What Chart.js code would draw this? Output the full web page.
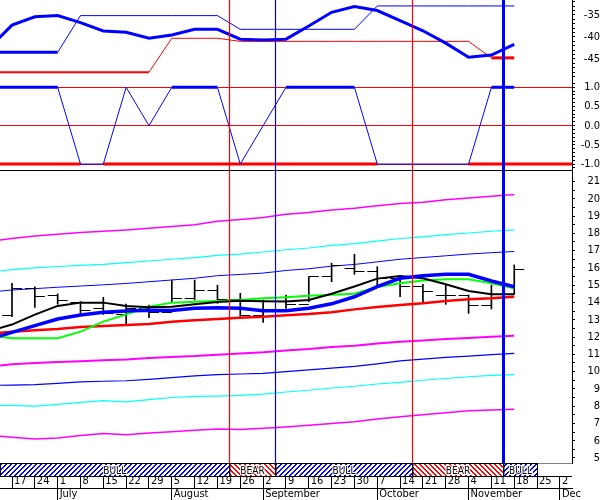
<!DOCTYPE html>
<html>
<head>
<meta charset="utf-8">
<script src="https://cdn.jsdelivr.net/npm/chart.js@4.4.1/dist/chart.umd.min.js"></script>
<style>
  html, body { margin: 0; padding: 0; background: #fff; }
</style>
</head>
<body>
<canvas id="myChart" width="600" height="500"></canvas>
<script>
// x is counted in weeks, week 0 = Mon 17 June; line data starts one week earlier (week -1)
const dayLabels = ['17','24','1','8','15','22','29','5','12','19','26','2','9','16','23','30','7','14','21','28','4','11','18','25','2'];
const monthWeeks = [2, 7, 11, 16, 20, 24];
const monthNames = ['July', 'August', 'September', 'October', 'November', 'Dec'];

// regime band and signal lines (week positions)
const regimeNames = ['BULL', 'BEAR', 'BULL', 'BEAR', 'BULL'];
const regimeEnds = [9.5, 11.5, 17.5, 21.5, 23];
const signalWeeks = [9.5, 11.5, 17.5, 21.5];
const signalTypes = ['bear', 'bull', 'bear', 'bull'];

// top panel (weeks -1..22)
const oscLine = [-42.5, -37.3, -35.4, -35.15, -36.75, -38.64, -38.94, -40.3, -39.55, -38.26, -38.26, -40.5, -40.68, -40.5, -37.5, -34.4, -33.1, -34.0, -36.3, -38.6, -41.4, -44.6, -44.1, -41.7];
const upperStop = [-43.5, -43.5, -43.5, -43.5, -35.15, -35.15, -35.15, -35.15, -35.15, -35.15, -35.15, -38.26, -38.26, -38.26, -38.26, -38.26, -38.26, -32.95, -32.95, -32.95, -32.95, -32.95, -32.95, -32.95];
const lowerStop = [-48, -48, -48, -48, -48, -48, -48, -48, -40.3, -40.3, -40.3, -41, -41, -41, -41, -41, -41, -41, -41, -41, -41, -41, -44.75, -44.75];

// middle panel (weeks -1..22)
const trendState = [1, 1, 1, 1, -1, -1, 1, 0, 1, 1, 1, -1, 0, 1, 1, 1, 1, -1, -1, -1, -1, -1, 1, 1];

// bottom panel, weekly bars (weeks 0..22)
const priceOpen  = [13.22, 14.82, 14.39, 14.0, 13.66, 13.3, 13.66, 13.43, 14.24, 14.68, 14.2, 13.23, 14.08, 13.9, 15.49, 15.98, 15.82, 15.4, 14.9, 14.39, 14.39, 13.81, 14.47];
const priceHigh  = [15.11, 14.9, 14.5, 14.05, 14.3, 13.9, 13.85, 15.3, 15.3, 15.0, 14.53, 14.14, 14.43, 15.49, 16.27, 16.79, 16.07, 15.4, 15.05, 15.05, 14.43, 15.01, 16.17];
const priceLow   = [13.18, 13.72, 13.9, 13.37, 13.3, 12.7, 13.12, 14.04, 14.14, 13.95, 13.18, 12.85, 13.66, 14.04, 15.2, 15.63, 14.91, 14.33, 14.01, 13.89, 13.37, 13.62, 14.47];
const priceClose = [14.82, 14.33, 14.14, 13.56, 13.35, 13.66, 13.43, 14.24, 14.68, 14.2, 13.23, 14.08, 13.9, 15.49, 16.13, 15.82, 15.4, 14.9, 14.66, 14.39, 13.81, 14.47, 15.88];

// bottom panel lines (weeks -1..22)
const maBlack = [12.35, 12.72, 13.3, 13.8, 13.99, 13.99, 13.8, 13.72, 13.75, 13.9, 14.02, 14.1, 14.07, 14.05, 14.14, 14.5, 14.92, 15.38, 15.53, 15.4, 15.05, 14.66, 14.48, 14.47];
const maBlue  = [11.87, 12.27, 12.66, 13.04, 13.27, 13.43, 13.51, 13.55, 13.53, 13.66, 13.7, 13.66, 13.52, 13.52, 13.66, 13.92, 14.33, 14.91, 15.4, 15.55, 15.63, 15.63, 15.24, 14.91];
const maGreen = [12.1, 11.93, 11.93, 11.93, 12.31, 12.89, 13.31, 13.75, 13.99, 14.04, 14.08, 14.14, 14.24, 14.3, 14.39, 14.45, 14.5, 14.9, 15.11, 15.27, 15.34, 15.34, 15.11, 14.82];
const maRed   = [12.2, 12.3, 12.39, 12.46, 12.58, 12.64, 12.7, 12.75, 12.89, 12.97, 13.04, 13.12, 13.18, 13.26, 13.33, 13.43, 13.6, 13.74, 13.85, 13.95, 14.08, 14.18, 14.24, 14.33];
const bandUpper3 = [17.55, 17.7, 17.85, 17.95, 18.05, 18.12, 18.2, 18.3, 18.4, 18.5, 18.7, 18.8, 18.92, 19.1, 19.2, 19.35, 19.45, 19.6, 19.72, 19.8, 19.95, 20.05, 20.15, 20.25];
const bandUpper2 = [15.75, 15.9, 16.0, 16.08, 16.15, 16.2, 16.3, 16.4, 16.5, 16.6, 16.72, 16.8, 16.92, 17.05, 17.15, 17.3, 17.4, 17.55, 17.7, 17.8, 17.92, 18.02, 18.12, 18.2];
const bandUpper1 = [14.6, 14.72, 14.8, 14.88, 14.95, 15.02, 15.1, 15.2, 15.3, 15.4, 15.55, 15.62, 15.7, 15.85, 15.95, 16.1, 16.2, 16.35, 16.5, 16.6, 16.7, 16.8, 16.88, 16.95];
const bandLower1 = [10.3, 10.42, 10.5, 10.55, 10.6, 10.65, 10.7, 10.78, 10.85, 10.9, 10.98, 11.05, 11.12, 11.22, 11.3, 11.42, 11.5, 11.62, 11.72, 11.8, 11.88, 11.95, 12.02, 12.08];
const bandLower2 = [9.2, 9.22, 9.25, 9.32, 9.4, 9.44, 9.47, 9.55, 9.65, 9.75, 9.82, 9.86, 9.9, 10.0, 10.1, 10.2, 10.3, 10.45, 10.62, 10.72, 10.82, 10.9, 10.98, 11.05];
const bandLower3 = [8.05, 8.05, 8.0, 8.1, 8.22, 8.32, 8.25, 8.38, 8.5, 8.56, 8.58, 8.62, 8.7, 8.82, 8.92, 9.05, 9.15, 9.28, 9.38, 9.5, 9.6, 9.7, 9.78, 9.82];
const bandLower4 = [6.3, 6.2, 6.1, 6.15, 6.3, 6.42, 6.35, 6.45, 6.52, 6.6, 6.68, 6.65, 6.72, 6.8, 6.9, 7.0, 7.1, 7.25, 7.38, 7.5, 7.62, 7.74, 7.78, 7.82];

// axis labels
const topLabelValues = [-35, -40, -45];
const midLabelValues = [1, 0.5, 0, -0.5, -1];
const midLabels = ['1.0', '0.5', '0.0', '-0.5', '-1.0'];

const xMin = -0.526;
const xMax = 24.53;
const FONT = '"Liberation Sans Narrow", "DejaVu Sans Condensed", Arial, sans-serif';

// turn a list of values into {x, y} points starting at a given week
function series(values, firstWeek) {
  return values.map((v, k) => ({ x: firstWeek + k, y: v }));
}

// small canvas used as point style for the open / close ticks of the bars
function tickImage(side) {
  const c = document.createElement('canvas');
  c.width = 22; c.height = 1;
  const g = c.getContext('2d');
  g.fillStyle = '#000';
  g.fillRect(side === 'left' ? 1 : 11, 0, 10, 1);
  return c;
}

// diagonal hatch, 5px period, 2px wide strokes
function hatchPattern(ctx, color, rising) {
  const c = document.createElement('canvas');
  c.width = 5; c.height = 5;
  const g = c.getContext('2d');
  g.fillStyle = color;
  for (let i = 0; i < 5; i++) {
    const y = rising ? 4 - i : i;
    g.fillRect(i, y, 1, 1);
    g.fillRect((i + 1) % 5, y, 1, 1);
  }
  return ctx.createPattern(c, 'repeat');
}

function line(values, axis, color, width, extra) {
  return Object.assign({
    type: 'line',
    data: series(values, -1),
    yAxisID: axis,
    borderColor: color,
    borderWidth: width,
    pointRadius: 0,
    tension: 0,
    fill: false
  }, extra || {});
}

// no extra layout padding from the axes
function noPadding(scale) {
  scale.paddingTop = 0;
  scale.paddingBottom = 0;
  scale.paddingLeft = 0;
  scale.paddingRight = 0;
}

// y axis in the right hand stack
function yAxis(order, weight, min, max, ticksFn, labelFn, pad, gridColor) {
  return {
    type: 'linear',
    position: 'right',
    stack: 'panels',
    stackWeight: weight,
    weight: order,
    min: min,
    max: max,
    afterBuildTicks: scale => { scale.ticks = ticksFn().map(v => ({ value: v })); },
    afterFit: scale => { scale.width = 28; noPadding(scale); },
    border: { display: true, color: '#000', width: 1 },
    grid: {
      drawOnChartArea: !!gridColor,
      color: gridColor || '#000',
      tickColor: '#000',
      tickLength: 3
    },
    ticks: {
      autoSkip: false,
      crossAlign: 'far',
      padding: pad,
      color: '#000',
      font: { family: FONT, size: 11 },
      callback: labelFn
    }
  };
}

function range(a, b, step) {
  const out = [];
  for (let v = a; v <= b + 1e-9; v += step) out.push(Math.round(v * 100) / 100);
  return out;
}

const overlay = {
  id: 'overlay',
  afterDatasetsDraw(chart) {
    const { ctx, chartArea, scales } = chart;
    signalWeeks.forEach((w, k) => {
      const last = k === signalWeeks.length - 1;
      const px = Math.round(scales.x.getPixelForValue(w)) + 0.5;
      ctx.save();
      ctx.strokeStyle = signalTypes[k] === 'bear' ? 'rgb(255,0,0)' : 'rgb(0,0,255)';
      ctx.lineWidth = last ? 3 : 1.2;
      ctx.beginPath();
      ctx.moveTo(px, chartArea.top);
      ctx.lineTo(px, chartArea.bottom);
      ctx.stroke();
      ctx.restore();
    });
  },
  afterDraw(chart) {
    const { ctx, chartArea, scales } = chart;
    const x = scales.x;
    const top = chartArea.bottom + 0.5;
    const h = 13;
    ctx.save();
    // hide the tick marks behind the band
    ctx.fillStyle = '#fff';
    ctx.fillRect(chartArea.left, top, chartArea.right - chartArea.left, h);
    const bull = hatchPattern(ctx, '#0000ff', true);
    const bear = hatchPattern(ctx, '#ff0000', false);
    let start = chartArea.left;
    regimeNames.forEach((name, k) => {
      const end = Math.round(x.getPixelForValue(regimeEnds[k])) + 0.5;
      ctx.fillStyle = name === 'BULL' ? bull : bear;
      ctx.fillRect(start, top, end - start, h);
      ctx.strokeStyle = '#000';
      ctx.lineWidth = 1;
      ctx.strokeRect(start + 0.5, top, end - start - 0.5, h);
      ctx.font = '10px ' + FONT;
      ctx.textAlign = 'center';
      ctx.textBaseline = 'middle';
      ctx.lineWidth = 2;
      ctx.strokeStyle = '#fff';
      ctx.strokeText(name, (start + end) / 2, top + h / 2 + 1);
      ctx.fillStyle = '#000';
      ctx.fillText(name, (start + end) / 2, top + h / 2 + 1);
      start = end;
    });
    ctx.strokeStyle = '#000';
    ctx.lineWidth = 1;
    ctx.beginPath();
    ctx.moveTo(chartArea.left, top + h);
    ctx.lineTo(chartArea.right, top + h);
    // frame line on top of the price panel
    const sep = Math.round(scales.yBot.top) + 0.5;
    ctx.moveTo(chartArea.left, sep);
    ctx.lineTo(chartArea.right, sep);
    ctx.stroke();
    ctx.restore();
  }
};

const openTick = tickImage('left');
const closeTick = tickImage('right');

const datasets = [
  // top panel
  line(oscLine, 'yTop', '#0000ff', 3),
  line(upperStop, 'yTop', '#0000ff', 1, { segment: { borderWidth: c => c.p0DataIndex < 3 ? 3 : 1 } }),
  line(lowerStop, 'yTop', '#ff0000', 1, { segment: { borderWidth: c => c.p0DataIndex < 7 ? 2 : (c.p0DataIndex >= 22 ? 3 : 1) } }),
  // middle panel
  line(trendState, 'yMid', '#0000ff', 1, { segment: { borderWidth: c => (c.p0.parsed.y === 1 && c.p1.parsed.y === 1) ? 3 : 1 } }),
  {
    type: 'line',
    data: series(trendState.map(() => -1), -1).concat([{ x: xMax, y: -1 }]),
    yAxisID: 'yMid',
    borderColor: '#ff0000',
    borderWidth: 3,
    pointRadius: 0,
    segment: {
      borderColor: c => (trendState[c.p0DataIndex] === -1 && trendState[c.p1DataIndex] === -1) ? 'rgba(0,0,0,0)' : '#ff0000'
    }
  },
  // bottom panel
  line(maBlue, 'yBot', '#0000ff', 3.5),
  line(maBlack, 'yBot', '#000000', 2),
  line(maGreen, 'yBot', '#00ff00', 2),
  line(maRed, 'yBot', '#ff0000', 2.5),
  {
    type: 'line', showLine: false, yAxisID: 'yBot',
    data: series(priceOpen, 0), pointStyle: openTick, pointRadius: 5
  },
  {
    type: 'line', showLine: false, yAxisID: 'yBot',
    data: series(priceClose, 0), pointStyle: closeTick, pointRadius: 5
  },
  {
    type: 'bar', yAxisID: 'yBot', grouped: false,
    data: priceHigh.map((h, k) => ({ x: k, y: [priceLow[k], h] })),
    backgroundColor: '#000', borderWidth: 0, barThickness: 1
  },
  line(bandUpper1, 'yBot', '#0000ff', 1),
  line(bandUpper2, 'yBot', '#00ffff', 1.2),
  line(bandUpper3, 'yBot', '#ff00ff', 1.5),
  line(bandLower1, 'yBot', '#ff00ff', 2),
  line(bandLower2, 'yBot', '#0000ff', 1.2),
  line(bandLower3, 'yBot', '#00ffff', 1.2),
  line(bandLower4, 'yBot', '#ff00ff', 1.5)
];

const myChart = new Chart(document.getElementById('myChart'), {
  type: 'line',
  data: { datasets: datasets },
  plugins: [overlay],
  options: {
    responsive: false,
    animation: false,
    devicePixelRatio: 1,
    events: [],
    layout: { padding: 0, autoPadding: false },
    plugins: { legend: { display: false }, tooltip: { enabled: false } },
    scales: {
      x: {
        type: 'linear', position: 'bottom', weight: 0,
        min: xMin, max: xMax, offset: false,
        afterBuildTicks: scale => { scale.ticks = dayLabels.map((_, k) => ({ value: k })); },
        afterFit: scale => { scale.height = 25; noPadding(scale); },
        border: { display: true, color: '#000' },
        grid: { drawOnChartArea: false, offset: false, color: '#000', tickLength: 25 },
        ticks: {
          autoSkip: false, maxRotation: 0, align: 'start', labelOffset: 2, padding: -13,
          color: '#000', font: { family: FONT, size: 11 },
          callback: v => dayLabels[v]
        }
      },
      x2: {
        type: 'linear', position: 'bottom', weight: 1,
        min: xMin, max: xMax, offset: false,
        afterBuildTicks: scale => { scale.ticks = monthWeeks.map(v => ({ value: v })); },
        afterFit: scale => { scale.height = 12; noPadding(scale); },
        border: { display: true, color: '#000' },
        grid: { drawOnChartArea: false, offset: false, color: '#000', tickLength: 12 },
        ticks: {
          autoSkip: false, maxRotation: 0, align: 'start', labelOffset: 2, padding: -12,
          color: '#000', font: { family: FONT, size: 11 },
          callback: v => monthNames[monthWeeks.indexOf(v)]
        }
      },
      yTop: yAxis(0, 80, -49.78, -31.6,
        () => range(-49, -32, 1),
        v => topLabelValues.includes(v) ? String(v) : '', 2),
      yMid: yAxis(1, 90, -1.155, 1.19,
        () => range(-1.1, 1.1, 0.1),
        v => { const k = midLabelValues.indexOf(v); return k >= 0 ? midLabels[k] : ''; }, 0,
        c => [1, 0, -1].includes(c.tick.value) ? '#ff0000' : 'rgba(0,0,0,0)'),
      yBot: yAxis(2, 293, 4.71, 21.665,
        () => range(5, 21, 0.5),
        v => Number.isInteger(v) ? String(v) : '', 7)
    }
  }
});
</script>
</body>
</html>
